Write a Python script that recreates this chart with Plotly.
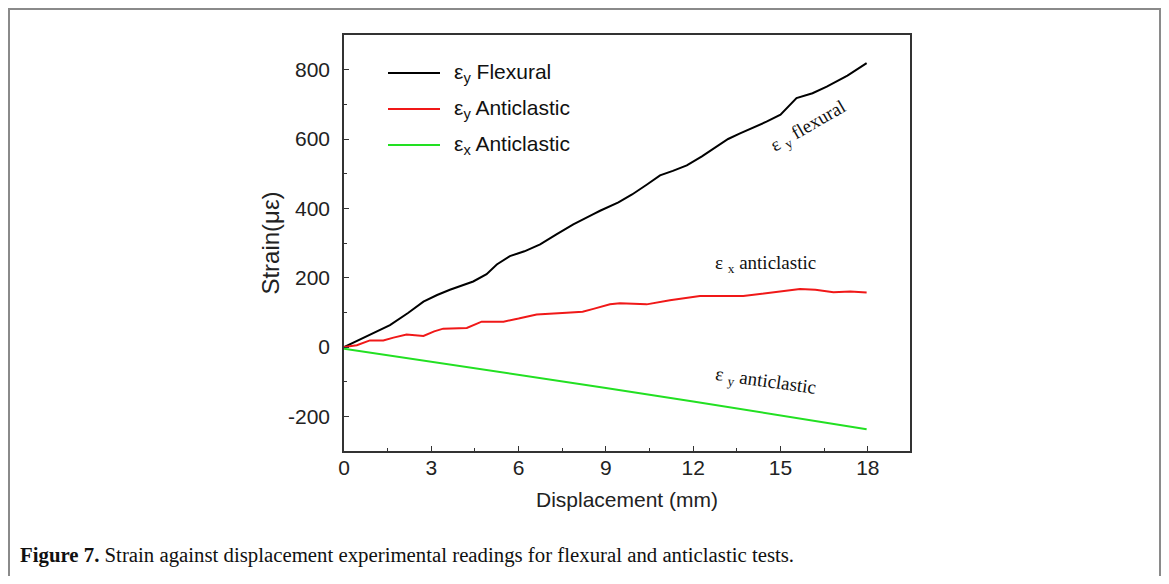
import plotly.graph_objects as go

# ---- data ----
flex_x = [0.0, 0.3, 0.8, 1.58, 2.2, 2.73, 3.2, 3.64, 4.44, 4.9, 5.25, 5.7, 6.2, 6.74, 7.3, 7.88, 8.57, 8.8, 9.43, 9.9, 10.4, 10.86, 11.3, 11.78, 12.3, 12.81, 13.2, 13.61, 14.1, 14.52, 15.0, 15.3, 15.55, 16.1, 16.59, 17.3, 17.96]
flex_y = [0, 12, 32, 63, 98, 131, 150, 165, 189, 210, 238, 262, 276, 296, 325, 354, 383, 393, 417, 440, 468, 495, 508, 524, 550, 577, 600, 616, 634, 650, 670, 695, 718, 732, 751, 783, 819]

antx_x = [0.0, 0.44, 0.89, 1.35, 1.7, 2.15, 2.73, 3.1, 3.41, 4.22, 4.73, 5.48, 6.0, 6.62, 7.65, 8.2, 8.57, 9.14, 9.48, 10.4, 11.2, 12.23, 13.72, 14.75, 15.67, 16.2, 16.82, 17.4, 17.96]
antx_y = [0, 5, 19, 19, 27, 36, 32, 45, 53, 55, 73, 73, 82, 94, 99, 102, 110, 123, 126, 123, 135, 147, 147, 158, 167, 165, 158, 160, 157]

anty_x = [0.0, 3.0, 6.0, 9.0, 12.0, 15.0, 17.96]
anty_y = [-5, -42, -80, -118, -157, -197, -237]

x_ticks = [0, 3, 6, 9, 12, 15, 18]
x_tick_labels = ["0", "3", "6", "9", "12", "15", "18"]
y_ticks = [-200, 0, 200, 400, 600, 800]
y_tick_labels = ["-200", "0", "200", "400", "600", "800"]

legend_labels = ["ε<sub>y</sub> Flexural", "ε<sub>y</sub> Anticlastic", "ε<sub>x</sub> Anticlastic"]
colors = ["#000000", "#f01818", "#22e022"]

OFF = 8  # page body margin
W, H = 1169 - 2 * OFF, 584 - 2 * OFF
L, R, T, B = 344 - OFF, 910 - OFF, 35 - OFF, 451 - OFF


def px(xp):
    return (xp - OFF - L) / (R - L)


def py(yp):
    return (B - (yp - OFF)) / (B - T)


fig = go.Figure()
for xs, ys, c in [(flex_x, flex_y, colors[0]), (antx_x, antx_y, colors[1]), (anty_x, anty_y, colors[2])]:
    fig.add_trace(go.Scatter(x=xs, y=ys, mode="lines", line=dict(color=c, width=2), showlegend=False))

sans = "Liberation Sans, Arial, sans-serif"
serif = "Liberation Serif, Times New Roman, serif"

axis_common = dict(
    showgrid=False, zeroline=False, showline=True, linecolor="#333333", linewidth=1.5,
    mirror=True, ticks="inside", ticklen=5, tickwidth=1.2, tickcolor="#333333",
    tickfont=dict(family=sans, size=21, color="#222222"),
)

fig.update_layout(
    width=W, height=H,
    margin=dict(l=L, r=W - R, t=T, b=H - B),
    plot_bgcolor="white", paper_bgcolor="white",
    showlegend=False,
    xaxis=dict(range=[0, 19.45], tickvals=x_ticks, ticktext=x_tick_labels, ticklabelstandoff=-3,
               minor=dict(ticks="inside", ticklen=3, dtick=1.5, tickcolor="#333333"),
               title=dict(text="Displacement (mm)", font=dict(family=sans, size=21, color="#222222"), standoff=14),
               **axis_common),
    yaxis=dict(range=[-300, 900], tickvals=y_ticks, ticktext=y_tick_labels, ticklabelstandoff=8,
               minor=dict(ticks="inside", ticklen=3, dtick=100, tickcolor="#333333"),
               title=dict(text="Strain(με)", font=dict(family=sans, size=24, color="#222222"), standoff=2),
               **axis_common),
)

# manual legend
rows = [73, 109, 145]
for lab, c, yr in zip(legend_labels, colors, rows):
    fig.add_shape(type="line", xref="paper", yref="paper", x0=px(388), x1=px(440), y0=py(yr), y1=py(yr),
                  line=dict(color=c, width=2))
    fig.add_annotation(xref="paper", yref="paper", x=px(452), y=py(yr), xanchor="left", yanchor="middle",
                       text=lab, showarrow=False, font=dict(family=sans, size=21, color="#111111"))

# curve labels
fig.add_annotation(x=15.95, y=635, text="ε <sub>y</sub> flexural", showarrow=False, textangle=-30,
                   font=dict(family=serif, size=19, color="#111111"))
fig.add_annotation(x=14.5, y=239, text="ε <sub>x</sub> anticlastic", showarrow=False,
                   font=dict(family=serif, size=19, color="#111111"))
fig.add_annotation(x=14.5, y=-102, text="ε <sub>y</sub> anticlastic", showarrow=False, textangle=8,
                   font=dict(family=serif, size=19, color="#111111"))

# caption
fig.add_annotation(xref="paper", yref="paper", x=px(18), y=py(555), xanchor="left", yanchor="middle",
                   text="<b>Figure 7.</b> Strain against displacement experimental readings for flexural and anticlastic tests.",
                   showarrow=False, font=dict(family=serif, size=20.8, color="#111111"))

# outer frame
fig.add_shape(type="rect", xref="paper", yref="paper", x0=px(9), x1=px(1160), y0=py(620), y1=py(9),
              line=dict(color="#8a8a8a", width=2), layer="below")

fig.write_html("out.html")
